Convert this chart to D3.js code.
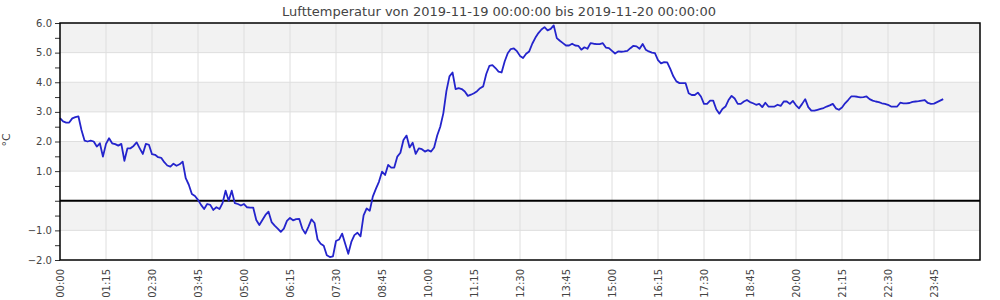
<!DOCTYPE html>
<html><head><meta charset="utf-8">
<script src="https://cdn.jsdelivr.net/npm/d3@7"></script>
<style>
body{margin:0;background:#fff}
text{font-family:"DejaVu Sans",sans-serif;fill:#444}
</style>
</head><body><svg id="c" width="1000" height="300"></svg>
<script>
const title = "Lufttemperatur von 2019-11-19 00:00:00 bis 2019-11-20 00:00:00";
const yUnit = "°C";
const xDomainLabels = ["00:00", "25:00"];
const yDomain = [-2, 6];
const yTickValues = [6, 5, 4, 3, 2, 1, -1, -2];
const xTickLabels = ["00:00","01:15","02:30","03:45","05:00","06:15","07:30","08:45","10:00","11:15",
  "12:30","13:45","15:00","16:15","17:30","18:45","20:00","21:15","22:30","23:45"];

const times = [
"00:00","00:05","00:10","00:15","00:20","00:25","00:30","00:35","00:40","00:45","00:50","00:55",
"01:00","01:05","01:10","01:15","01:20","01:25","01:30","01:35","01:40","01:45","01:50","01:55",
"02:00","02:05","02:10","02:15","02:20","02:25","02:30","02:35","02:40","02:45","02:50","02:55",
"03:00","03:05","03:10","03:15","03:20","03:25","03:30","03:35","03:40","03:45","03:50","03:55",
"04:00","04:05","04:10","04:15","04:20","04:25","04:30","04:35","04:40","04:45","04:50","04:55",
"05:00","05:05","05:10","05:15","05:20","05:25","05:30","05:35","05:40","05:45","05:50","05:55",
"06:00","06:05","06:10","06:15","06:20","06:25","06:30","06:35","06:40","06:45","06:50","06:55",
"07:00","07:05","07:10","07:15","07:20","07:25","07:30","07:35","07:40","07:45","07:50","07:55",
"08:00","08:05","08:10","08:15","08:20","08:25","08:30","08:35","08:40","08:45","08:50","08:55",
"09:00","09:05","09:10","09:15","09:20","09:25","09:30","09:35","09:40","09:45","09:50","09:55",
"10:00","10:05","10:10","10:15","10:20","10:25","10:30","10:35","10:40","10:45","10:50","10:55",
"11:00","11:05","11:10","11:15","11:20","11:25","11:30","11:35","11:40","11:45","11:50","11:55",
"12:00","12:05","12:10","12:15","12:20","12:25","12:30","12:35","12:40","12:45","12:50","12:55",
"13:00","13:05","13:10","13:15","13:20","13:25","13:30","13:35","13:40","13:45","13:50","13:55",
"14:00","14:05","14:10","14:15","14:20","14:25","14:30","14:35","14:40","14:45","14:50","14:55",
"15:00","15:05","15:10","15:15","15:20","15:25","15:30","15:35","15:40","15:45","15:50","15:55",
"16:00","16:05","16:10","16:15","16:20","16:25","16:30","16:35","16:40","16:45","16:50","16:55",
"17:00","17:05","17:10","17:15","17:20","17:25","17:30","17:35","17:40","17:45","17:50","17:55",
"18:00","18:05","18:10","18:15","18:20","18:25","18:30","18:35","18:40","18:45","18:50","18:55",
"19:00","19:05","19:10","19:15","19:20","19:25","19:30","19:35","19:40","19:45","19:50","19:55",
"20:00","20:05","20:10","20:15","20:20","20:25","20:30","20:35","20:40","20:45","20:50","20:55",
"21:00","21:05","21:10","21:15","21:20","21:25","21:30","21:35","21:40","21:45","21:50","21:55",
"22:00","22:05","22:10","22:15","22:20","22:25","22:30","22:35","22:40","22:45","22:50","22:55",
"23:00","23:05","23:10","23:15","23:20","23:25","23:30","23:35","23:40","23:45","23:50","23:55",
"24:00"];

const temps = [
2.79,2.68,2.64,2.64,2.78,2.82,2.85,2.39,2.03,2.00,2.03,2.00,
1.83,1.94,1.49,1.92,2.11,1.94,1.91,1.86,1.92,1.35,1.77,1.77,
1.85,1.97,1.77,1.58,1.92,1.89,1.57,1.55,1.47,1.45,1.30,1.19,
1.15,1.25,1.18,1.23,1.32,0.76,0.54,0.23,0.16,0.03,-0.14,-0.28,
-0.11,-0.14,-0.31,-0.22,-0.28,-0.08,0.34,0.00,0.34,-0.08,-0.11,-0.16,
-0.11,-0.22,-0.23,-0.23,-0.65,-0.82,-0.65,-0.48,-0.37,-0.72,-0.84,-0.94,
-1.05,-0.94,-0.68,-0.58,-0.66,-0.62,-0.61,-0.94,-1.11,-0.88,-0.63,-0.75,
-1.31,-1.45,-1.52,-1.84,-1.90,-1.88,-1.36,-1.31,-1.11,-1.45,-1.79,-1.39,
-1.16,-1.08,-1.20,-0.49,-0.26,-0.34,0.14,0.40,0.64,0.98,0.87,1.21,
1.12,1.12,1.49,1.62,2.05,2.20,1.80,1.96,1.58,1.77,1.74,1.66,
1.71,1.66,1.80,2.20,2.50,2.95,3.70,4.20,4.33,3.77,3.80,3.77,
3.69,3.54,3.58,3.63,3.70,3.80,3.86,4.28,4.55,4.58,4.48,4.36,
4.33,4.70,4.98,5.12,5.14,5.05,4.89,4.82,4.96,5.04,5.30,5.50,
5.66,5.78,5.86,5.75,5.80,5.92,5.49,5.40,5.32,5.24,5.24,5.30,
5.24,5.23,5.10,5.18,5.13,5.32,5.30,5.29,5.29,5.32,5.17,5.15,
5.06,4.97,5.04,5.03,5.04,5.06,5.15,5.23,5.21,5.13,5.29,5.10,
5.04,5.00,4.98,4.75,4.64,4.68,4.67,4.45,4.20,4.03,3.97,3.97,
3.97,3.63,3.57,3.57,3.65,3.52,3.27,3.27,3.38,3.38,3.09,2.94,
3.10,3.18,3.40,3.54,3.45,3.27,3.27,3.35,3.40,3.33,3.29,3.24,
3.27,3.16,3.31,3.18,3.18,3.18,3.24,3.20,3.35,3.35,3.27,3.37,
3.22,3.12,3.27,3.43,3.16,3.04,3.04,3.07,3.10,3.13,3.18,3.22,
3.27,3.12,3.07,3.15,3.29,3.40,3.52,3.52,3.51,3.49,3.50,3.52,
3.43,3.38,3.35,3.33,3.29,3.27,3.24,3.18,3.18,3.18,3.31,3.29,
3.29,3.30,3.34,3.35,3.36,3.38,3.40,3.30,3.27,3.28,3.33,3.38,
3.43];

const toMin = s => { const [h, m] = s.split(":").map(Number); return h * 60 + m; };

const svg = d3.select("#c");
const L = 60, R = 980, T = 23, B = 260;

const x = d3.scaleLinear().domain(xDomainLabels.map(toMin)).range([L, R]);
const y = d3.scaleLinear().domain(yDomain).range([B, T]);

// background bands
const bandStarts = d3.range(yDomain[0], yDomain[1]);
svg.append("g").selectAll("rect").data(bandStarts).join("rect")
  .attr("x", L).attr("width", R - L)
  .attr("y", d => y(d + 1)).attr("height", d => y(d) - y(d + 1))
  .attr("fill", d => Math.abs(d) % 2 === 1 ? "#f2f2f2" : "#ffffff");

// horizontal grid
svg.append("g").selectAll("line").data(d3.range(yDomain[0] + 1, yDomain[1])).join("line")
  .attr("x1", L).attr("x2", R).attr("y1", d => y(d)).attr("y2", d => y(d))
  .attr("stroke", "#dedede").attr("stroke-width", 1);

// vertical grid
svg.append("g").selectAll("line").data(xTickLabels.slice(1)).join("line")
  .attr("x1", d => x(toMin(d))).attr("x2", d => x(toMin(d)))
  .attr("y1", T).attr("y2", B)
  .attr("stroke", "#dedede").attr("stroke-width", 1);

// y axis minor ticks
const yAxis = d3.axisLeft(y).tickValues(d3.range(yDomain[0], yDomain[1] + 0.01, 0.5))
  .tickSize(5).tickFormat("");
const ya = svg.append("g").attr("transform", `translate(${L},0)`).call(yAxis);
ya.select(".domain").remove();
ya.selectAll("line").attr("stroke", "#333");

// y labels
svg.append("g").selectAll("text").data(yTickValues).join("text")
  .attr("x", L - 8).attr("y", d => y(d)).attr("dy", "0.35em")
  .attr("text-anchor", "end").attr("font-size", 10)
  .text(d => d3.format(".1f")(d));

// x labels
svg.append("g").selectAll("text").data(xTickLabels).join("text")
  .attr("transform", d => `translate(${x(toMin(d))},${B + 9}) rotate(-90)`)
  .attr("dy", "0.35em").attr("text-anchor", "end").attr("font-size", 10)
  .text(d => d);

// zero line
svg.append("line").attr("x1", L).attr("x2", R).attr("y1", y(0)).attr("y2", y(0))
  .attr("stroke", "#000").attr("stroke-width", 2);

// data line
const data = times.map((t, i) => ({ m: toMin(t), v: temps[i] }));
svg.append("path").datum(data)
  .attr("fill", "none").attr("stroke", "#2424cc").attr("stroke-width", 1.8)
  .attr("stroke-linejoin", "round")
  .attr("d", d3.line().x(d => x(d.m)).y(d => y(d.v)));

// frame
svg.append("rect").attr("x", L).attr("y", T).attr("width", R - L).attr("height", B - T)
  .attr("fill", "none").attr("stroke", "#000").attr("stroke-width", 1.5);

// title
svg.append("text").attr("x", 499).attr("y", 16).attr("text-anchor", "middle")
  .attr("font-size", 13).text(title);

// unit label
svg.append("text").attr("transform", `translate(6,140) rotate(-90)`)
  .attr("text-anchor", "middle").attr("dy", "0.35em").attr("font-size", 11).text(yUnit);
</script>
</body></html>
